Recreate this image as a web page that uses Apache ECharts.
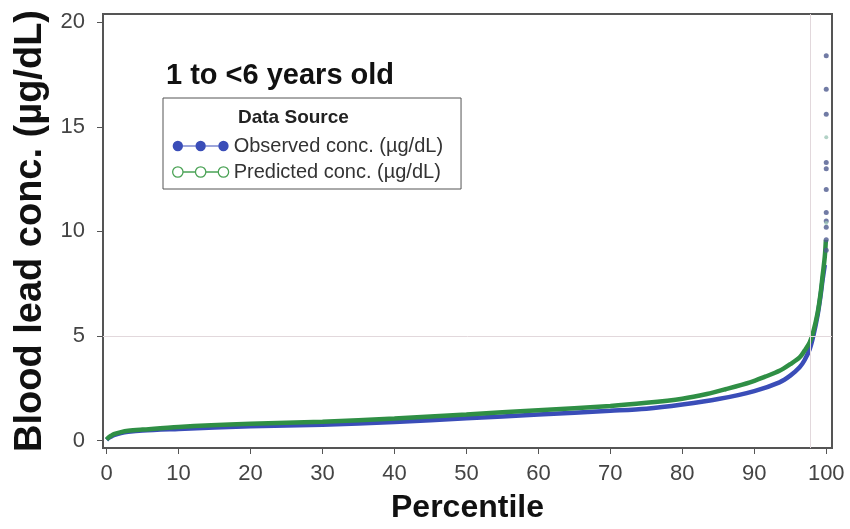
<!DOCTYPE html>
<html>
<head>
<meta charset="utf-8">
<script src="https://cdn.jsdelivr.net/npm/echarts@6/dist/echarts.min.js"></script>
<style>html,body{margin:0;padding:0;background:#fff}#c{width:850px;height:529px}</style>
</head>
<body>
<div id="c"></div>
<script>
// ---- data ----
const obsPct  = [0, 0.3, 0.7, 1, 2, 3, 5, 10, 20, 30, 40, 50, 60, 70, 75, 80, 85, 90, 93.5, 95, 96.3, 97, 97.7, 98.2, 98.8, 99.2, 99.5, 99.8];
const obsConc = [0.03, 0.12, 0.2, 0.26, 0.36, 0.42, 0.48, 0.55, 0.68, 0.75, 0.88, 1.06, 1.24, 1.42, 1.52, 1.72, 1.98, 2.36, 2.78, 3.1, 3.5, 3.85, 4.37, 5.0, 6.0, 6.9, 7.7, 8.4];
const predPct  = [0, 0.3, 0.7, 1, 2, 3, 5, 10, 20, 30, 40, 50, 60, 70, 75, 80, 83.4, 86, 89.4, 91.5, 93.5, 95, 96.3, 97, 97.7, 98.2, 98.8, 99.2, 99.5, 99.8, 99.95];
const predConc = [0.05, 0.15, 0.24, 0.3, 0.4, 0.46, 0.52, 0.65, 0.8, 0.9, 1.05, 1.24, 1.45, 1.65, 1.8, 2.0, 2.22, 2.45, 2.78, 3.05, 3.33, 3.65, 3.97, 4.3, 4.69, 5.2, 6.1, 7.0, 7.9, 8.8, 9.6];
const obsTopPct  = [100, 100, 100, 100, 100, 100, 100, 100, 100, 100, 100];
const obsTopConc = [18.4, 16.8, 15.6, 13.3, 13.0, 12.0, 10.9, 10.5, 10.2, 9.6, 9.1];
const predTopPct  = [100, 100];
const predTopConc = [14.5, 10.4];
const xTicks = [0, 10, 20, 30, 40, 50, 60, 70, 80, 90, 100];
const yTicks = [0, 5, 10, 15, 20];
const refPct = 97.8;
const refConc = 5;
const obsName = 'Observed conc. (µg/dL)';
const predName = 'Predicted conc. (µg/dL)';

const zip = (a, b) => a.map((v, i) => [v, b[i]]);
const FONT = 'Liberation Sans, Arial, Helvetica, sans-serif';
const BLUE = '#3a4db8';
const GREEN = '#2f8f45';
const CIRCLES = 'M1,6a5,5 0 1,0 10,0a5,5 0 1,0 -10,0Z M23,6a5,5 0 1,0 10,0a5,5 0 1,0 -10,0Z M45,6a5,5 0 1,0 10,0a5,5 0 1,0 -10,0Z';
const ICON_FILLED = 'path://' + CIRCLES + ' M11,5.4h12v1.2h-12Z M33,5.4h12v1.2h-12Z';
const ICON_HOLLOW = 'path://' + CIRCLES + ' M11,5.9h12v0.2h-12Z M33,5.9h12v0.2h-12Z';

const chart = echarts.init(document.getElementById('c'), null, {renderer: 'canvas'});
chart.setOption({
  animation: false,
  backgroundColor: '#fff',
  textStyle: {fontFamily: FONT},
  title: [
    {text: '1 to <6 years old', left: 166, top: 61, padding: 0,
     textStyle: {fontFamily: FONT, fontSize: 29, fontWeight: 'bold', color: '#111'}},
    {text: 'Data Source', left: 238, top: 108, padding: 0, z: 10,
     textStyle: {fontFamily: FONT, fontSize: 19, fontWeight: 'bold', color: '#222'}}
  ],
  legend: {
    orient: 'vertical', left: 163, top: 98,
    padding: [38, 18, 7, 9], itemGap: 6,
    itemWidth: 56, itemHeight: 12,
    borderColor: '#555', borderWidth: 1, backgroundColor: '#fff',
    textStyle: {fontFamily: FONT, fontSize: 20, color: '#333'},
    data: [
      {name: obsName, icon: ICON_FILLED, itemStyle: {color: BLUE, borderWidth: 0}},
      {name: predName, icon: ICON_HOLLOW, itemStyle: {color: '#fff', borderColor: '#4aa255', borderWidth: 1.3}}
    ]
  },
  grid: {left: 103, right: 18, top: 14, bottom: 80, show: true, borderColor: '#555', borderWidth: 2},
  xAxis: {
    type: 'value', min: -0.5, max: 100.8,
    name: 'Percentile', nameLocation: 'middle', nameGap: 44,
    nameTextStyle: {fontFamily: FONT, fontSize: 32, fontWeight: 'bold', color: '#111'},
    axisLine: {show: true, onZero: false, lineStyle: {color: '#555', width: 2}},
    axisTick: {show: true, length: 6, lineStyle: {color: '#555'}, customValues: xTicks},
    axisLabel: {fontFamily: FONT, fontSize: 22, color: '#444', margin: 15, customValues: xTicks},
    splitLine: {show: false}
  },
  yAxis: {
    type: 'value', min: -0.36, max: 20.4,
    name: 'Blood lead conc. (µg/dL)', nameLocation: 'middle', nameGap: 52,
    nameTextStyle: {fontFamily: FONT, fontSize: 38, fontWeight: 'bold', color: '#111'},
    axisLine: {show: true, onZero: false, lineStyle: {color: '#555', width: 2}},
    axisTick: {show: true, length: 6, lineStyle: {color: '#555'}, customValues: yTicks},
    axisLabel: {fontFamily: FONT, fontSize: 22, color: '#444', margin: 18, customValues: yTicks},
    splitLine: {show: false}
  },
  series: [
    {
      name: obsName, type: 'line', data: zip(obsPct, obsConc), showSymbol: false,
      smooth: 0.3, lineStyle: {color: BLUE, width: 4.5}, itemStyle: {color: BLUE}, z: 3,
      markLine: {
        silent: true, symbol: 'none', label: {show: false},
        lineStyle: {color: '#e2d8dc', width: 1, type: 'solid'},
        data: [{xAxis: refPct}, {yAxis: refConc}]
      }
    },
    {
      name: predName, type: 'line', data: zip(predPct, predConc), showSymbol: false,
      smooth: 0.3, lineStyle: {color: GREEN, width: 4.5}, itemStyle: {color: GREEN}, z: 4
    },
    {
      name: obsName, type: 'scatter', data: zip(obsTopPct, obsTopConc),
      symbolSize: 5, itemStyle: {color: '#4d5a8f'}, z: 5
    },
    {
      name: predName, type: 'scatter', data: zip(predTopPct, predTopConc),
      symbolSize: 4, itemStyle: {color: '#9fc7b8'}, z: 5
    }
  ]
});
</script>
</body>
</html>
